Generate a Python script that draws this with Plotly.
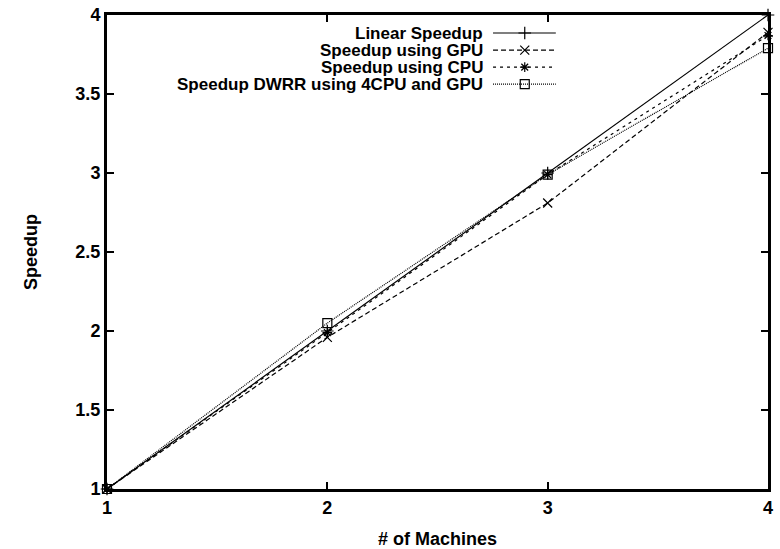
import plotly.graph_objects as go

machines = [1, 2, 3, 4]
linear_speedup = [1.0, 2.0, 3.0, 4.0]
gpu_speedup = [1.0, 1.96, 2.81, 3.89]
cpu_speedup = [1.0, 1.99, 2.99, 3.87]
dwrr_speedup = [1.0, 2.05, 2.99, 3.79]

series_names = ["Linear Speedup", "Speedup using GPU", "Speedup using CPU",
                "Speedup DWRR using 4CPU and GPU"]
series_values = [linear_speedup, gpu_speedup, cpu_speedup, dwrr_speedup]
dashes = ["solid", "5px,3px", "3px,4px", "1px,1px"]
symbols = ["cross-thin", "x-thin", "asterisk-open", "square-open"]
sizes = [9, 9, 8, 9]

x_ticks = [1, 2, 3, 4]
y_ticks = [1, 1.5, 2, 2.5, 3, 3.5, 4]

FONT = "Liberation Sans, Arial, sans-serif"
fig = go.Figure()

for name, vals, d, s, sz in zip(series_names, series_values, dashes, symbols, sizes):
    fig.add_trace(go.Scatter(
        x=machines, y=vals, mode="lines+markers", name=name,
        line=dict(color="black", width=1.2, dash=d),
        marker=dict(symbol=s, size=sz, color="black", line=dict(color="black", width=1.2)),
        cliponaxis=False, showlegend=False))

# manual legend (text right-aligned, sample on the right) drawn on an overlay axis in plot fractions
leg_rows = [0.962, 0.926, 0.890, 0.854]
for name, d, s, sz, yy in zip(series_names, dashes, symbols, sizes, leg_rows):
    fig.add_trace(go.Scatter(
        x=[0.584, 0.632, 0.679], y=[yy, yy, yy], mode="lines", xaxis="x2", yaxis="y2",
        line=dict(color="black", width=1.2, dash=d), showlegend=False, hoverinfo="skip"))
    fig.add_trace(go.Scatter(
        x=[0.632], y=[yy], mode="markers", xaxis="x2", yaxis="y2",
        marker=dict(symbol=s, size=sz, color="black", line=dict(color="black", width=1.2)),
        showlegend=False, hoverinfo="skip"))
    fig.add_annotation(x=0.572, y=yy, xref="x2", yref="y2", text=name, showarrow=False,
                       xanchor="right", yanchor="middle",
                       font=dict(family=FONT, size=17, color="black", weight="bold"))

axis_common = dict(
    showgrid=False, zeroline=False, showline=True, linecolor="black", linewidth=3,
    mirror="ticks", ticks="inside", ticklen=7, tickwidth=2, tickcolor="black",
    automargin=False,
    tickfont=dict(family=FONT, size=18, color="black", weight="bold"),
)
fig.update_layout(
    width=780, height=549,
    margin=dict(l=107, r=12, t=15, b=60),
    paper_bgcolor="white", plot_bgcolor="white",
    hovermode=False,
    xaxis=dict(range=[1, 4], tickvals=x_ticks, ticktext=[str(v) for v in x_ticks],
               title=dict(text="# of Machines", standoff=16,
                          font=dict(family=FONT, size=18, color="black", weight="bold")),
               **axis_common),
    yaxis=dict(range=[1, 4], tickvals=y_ticks, ticktext=[f"{v:g}" for v in y_ticks],
               title=dict(text="Speedup", standoff=34,
                          font=dict(family=FONT, size=18, color="black", weight="bold")),
               **axis_common),
    xaxis2=dict(overlaying="x", range=[0, 1], visible=False, anchor="y2"),
    yaxis2=dict(overlaying="y", range=[0, 1], visible=False, anchor="x2"),
)

fig.write_html("out.html", config={"displayModeBar": False, "staticPlot": True},
               post_script="document.body.style.margin='0';document.body.style.overflow='hidden';")
